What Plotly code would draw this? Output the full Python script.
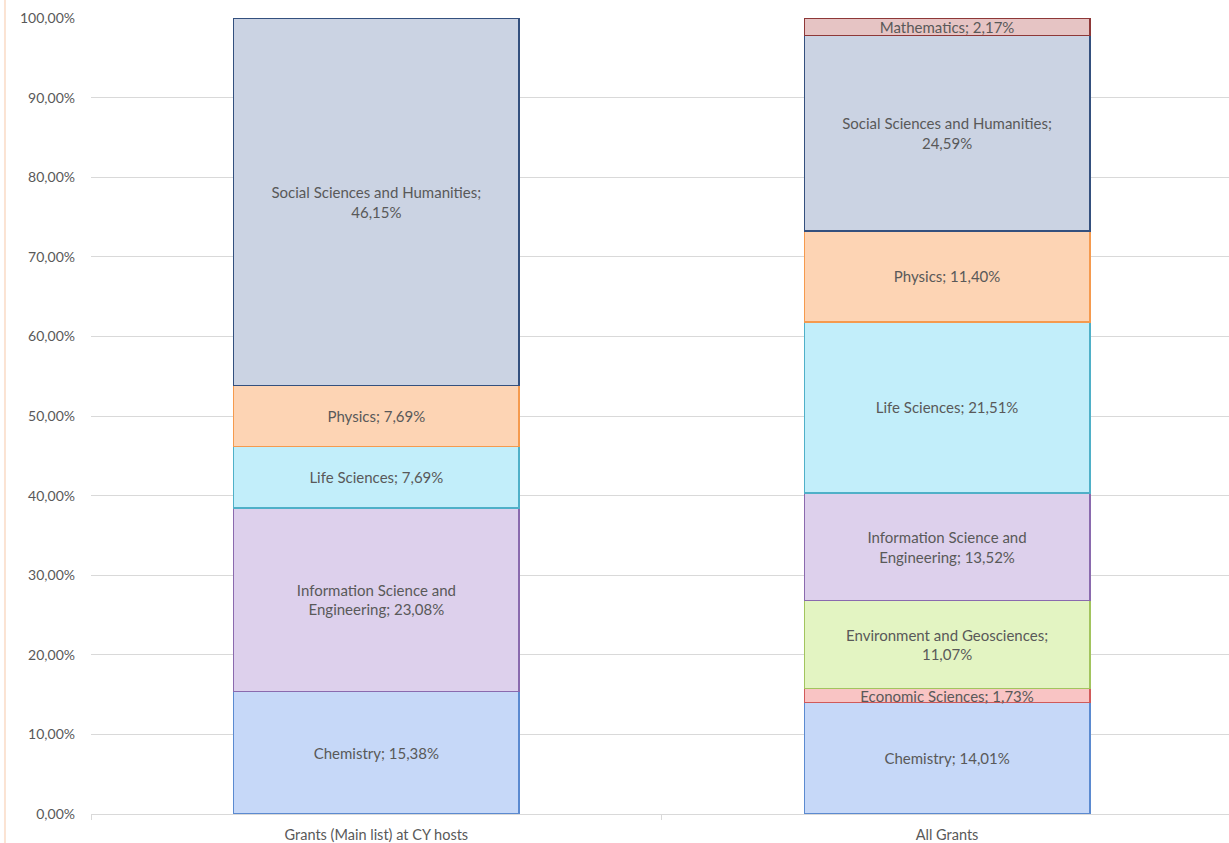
import plotly.graph_objects as go

categories = ["Grants (Main list) at CY hosts", "All Grants"]

fields = [
    "Chemistry",
    "Economic Sciences",
    "Environment and Geosciences",
    "Information Science and Engineering",
    "Life Sciences",
    "Physics",
    "Social Sciences and Humanities",
    "Mathematics",
]

# shares in percent, [CY hosts, All grants]
chemistry = [15.38, 14.01]
economic_sciences = [None, 1.73]
environment_geosciences = [None, 11.07]
information_science = [23.08, 13.52]
life_sciences = [7.69, 21.51]
physics = [7.69, 11.40]
social_sciences = [46.15, 24.59]
mathematics = [None, 2.17]

values = [
    chemistry, economic_sciences, environment_geosciences, information_science,
    life_sciences, physics, social_sciences, mathematics,
]

y_ticks = [0, 10, 20, 30, 40, 50, 60, 70, 80, 90, 100]

# styling
fill_colors = ["#C6D8F8", "#F9C4C4", "#E3F4C2", "#DDD0EC", "#C2EEFA", "#FDD4B4", "#CBD3E3", "#E6C4C4"]
line_colors = ["#5B8AD0", "#D05A5A", "#A2C45E", "#8A6AAE", "#4FB0C8", "#F59A4E", "#34507E", "#8E3838"]
label_names = [
    "Chemistry",
    "Economic Sciences",
    "Environment and Geosciences",
    "Information Science and<br>Engineering",
    "Life Sciences",
    "Physics",
    "Social Sciences and Humanities",
    "Mathematics",
]
label_seps = [" ", " ", "<br>", " ", " ", " ", "<br>", " "]


def fmt(v):
    return ("%.2f" % v).replace(".", ",") + "%"


fig = go.Figure()
for name, vals, fc, lc, lname, sep in zip(fields, values, fill_colors, line_colors, label_names, label_seps):
    texts = [lname + ";" + sep + fmt(v) if v is not None else "" for v in vals]
    fig.add_trace(go.Bar(
        x=categories,
        y=[v / 100 if v is not None else None for v in vals],
        name=name,
        width=0.5,
        marker=dict(color=fc, line=dict(color=lc, width=1.5)),
        text=texts,
        textposition="inside",
        insidetextanchor="middle",
        textangle=0,
        constraintext="none",
        textfont=dict(family="Lato, Carlito, sans-serif", size=15, color="#595959"),
        hoverinfo="name+y",
    ))

fig.update_layout(
    barmode="stack",
    width=1229,
    height=843,
    margin=dict(l=91, r=0, t=18, b=29),
    paper_bgcolor="white",
    plot_bgcolor="white",
    showlegend=False,
    separators=",.",
    font=dict(family="Lato, Carlito, sans-serif", size=14.5, color="#595959"),
    xaxis=dict(
        type="category",
        range=[-0.5, 1.494],
        showline=True,
        linecolor="#D9D9D9",
        linewidth=1,
        ticks="outside",
        tickson="boundaries",
        ticklen=5,
        tickcolor="#D9D9D9",
        showgrid=False,
        ticklabelstandoff=8,
        tickfont=dict(size=14.5, color="#595959"),
    ),
    yaxis=dict(
        range=[0, 1],
        tickvals=[t / 100 for t in y_ticks],
        tickformat=".2%",
        showgrid=True,
        gridcolor="#D9D9D9",
        gridwidth=1,
        zeroline=False,
        showline=False,
        ticks="",
        ticklabelstandoff=15,
        tickfont=dict(size=14, color="#595959"),
    ),
    shapes=[dict(
        type="line", xref="paper", yref="paper",
        x0=-0.0756, x1=-0.0756, y0=-0.04, y1=1.03,
        line=dict(color="#FBE3D3", width=2),
    )],
)

fig.write_html(
    "out.html",
    config={"displayModeBar": False},
    post_script="document.body.style.margin='0';",
)
